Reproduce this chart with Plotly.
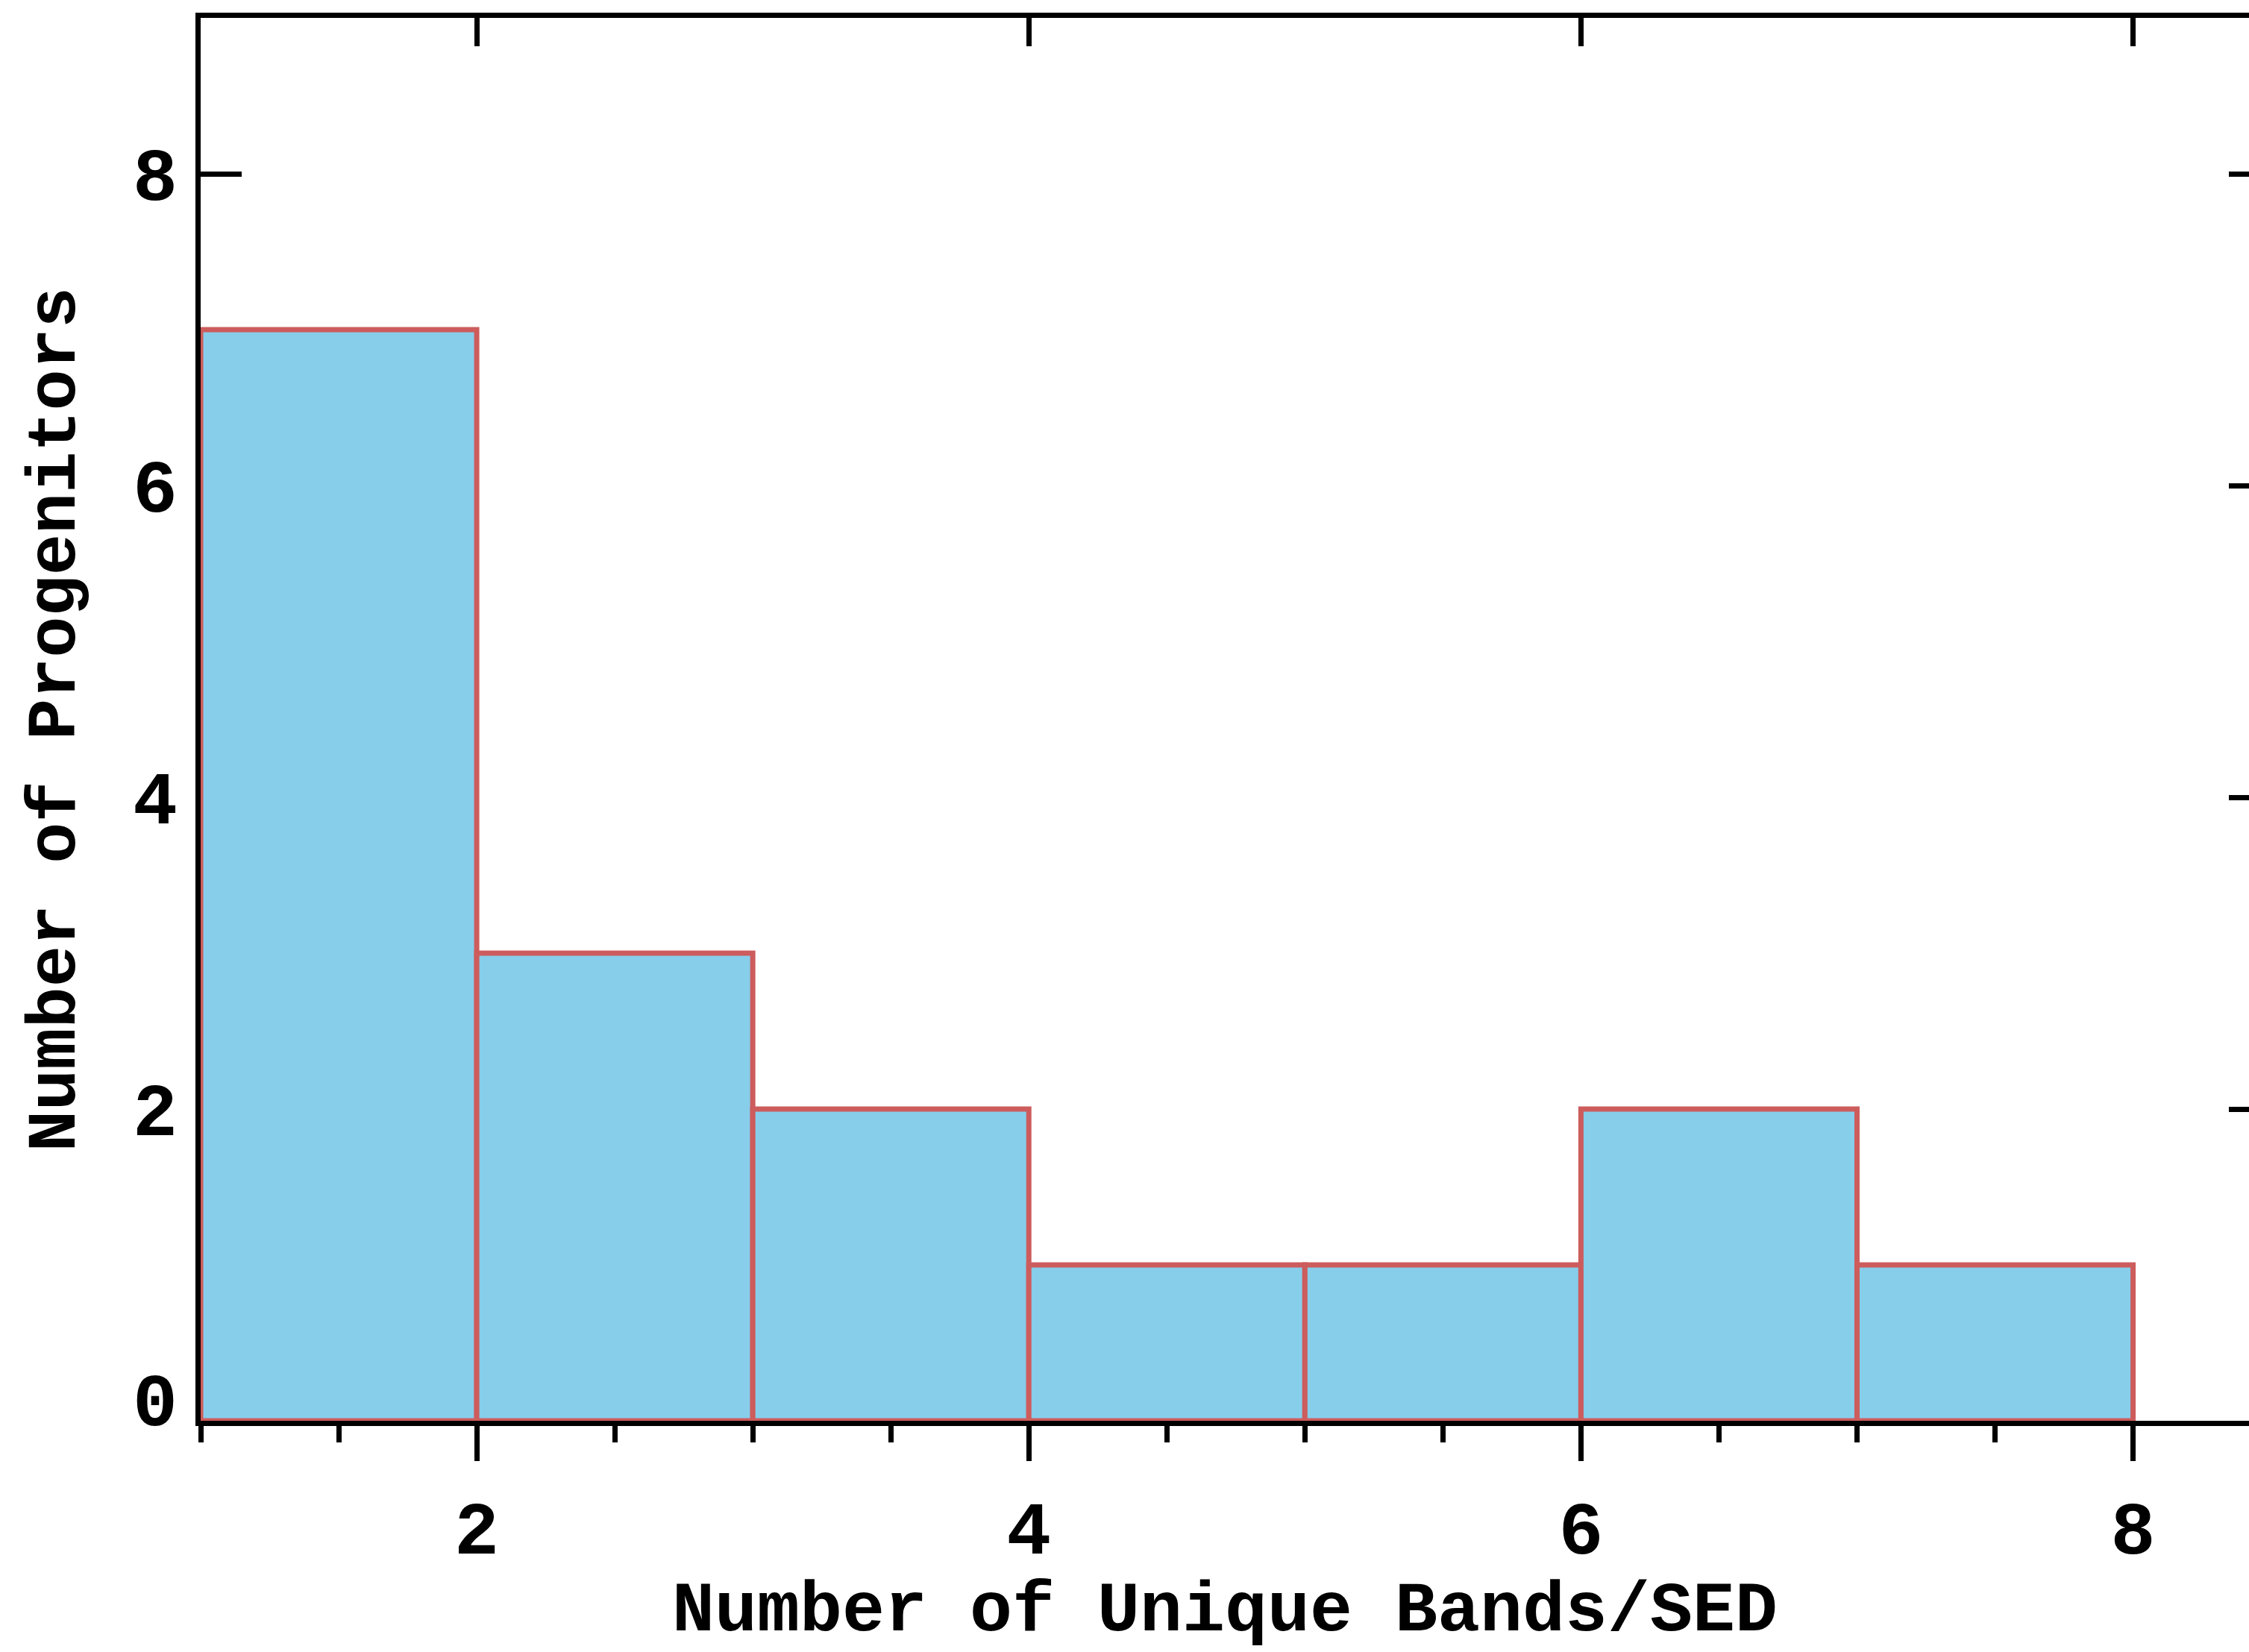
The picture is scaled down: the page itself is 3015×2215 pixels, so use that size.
import plotly.graph_objects as go

# Histogram of unique photometric bands per SED
bin_left = [1, 2, 3, 4, 5, 6, 7]
bin_width = [1, 1, 1, 1, 1, 1, 1]
counts = [7, 3, 2, 1, 1, 2, 1]

x_range = [1, 8.42]
y_range = [0, 9]
y_major = [2, 4, 6, 8]
y_origin = [0]

FONT = "Liberation Mono"
INK = "black"
CLEAR = "rgba(0,0,0,0)"
LW = 7

fig = go.Figure()
fig.add_trace(go.Bar(
    x=bin_left, y=counts, width=bin_width, offset=0,
    marker=dict(color="#87CEEB", line=dict(color="#CD5C5C", width=LW)),
    cliponaxis=False, showlegend=False,
))
# empty traces so the mirrored top/right axes and the origin label get drawn
fig.add_trace(go.Scatter(
    x=[None], y=[None], xaxis="x2", yaxis="y2",
    mode="markers", showlegend=False, hoverinfo="skip",
))
fig.add_trace(go.Scatter(
    x=[None], y=[None], xaxis="x", yaxis="y3",
    mode="markers", showlegend=False, hoverinfo="skip",
))

tick_font = dict(family=FONT, size=100, weight="bold")

fig.update_layout(
    width=3015, height=2215,
    margin=dict(l=269, r=0, t=24, b=310),
    paper_bgcolor="white", plot_bgcolor="white",
    font=dict(family=FONT, color=INK, size=100, weight="bold"),
    xaxis=dict(
        range=x_range, tick0=0, dtick=2, automargin=False,
        ticks="outside", ticklen=47, tickwidth=LW, tickcolor=INK,
        minor=dict(tick0=0, dtick=0.5, ticks="outside", ticklen=22,
                   tickwidth=LW, tickcolor=INK),
        showline=True, linewidth=LW, linecolor=INK,
        showgrid=False, zeroline=False, layer="below traces",
        tickfont=tick_font,
        ticklabelstandoff=4,
        title=dict(text="Number of Unique Bands/SED",
                   font=dict(family=FONT, size=95, weight="bold"),
                   standoff=40),
    ),
    xaxis2=dict(
        range=x_range, overlaying="x", anchor="y2", side="top",
        automargin=False,
        tick0=0, dtick=2, ticks="inside", ticklen=38, tickwidth=LW,
        tickcolor=INK, showline=True, linewidth=LW, linecolor=INK,
        showticklabels=False, showgrid=False, zeroline=False,
    ),
    yaxis=dict(
        range=y_range, tickmode="array", tickvals=y_major, automargin=False,
        ticks="inside", ticklen=55, tickwidth=LW, tickcolor=INK,
        showline=True, linewidth=LW, linecolor=INK,
        showgrid=False, zeroline=False, layer="below traces",
        tickfont=tick_font,
        ticklabelstandoff=4,
        title=dict(text="Number of Progenitors",
                   font=dict(family=FONT, size=92, weight="bold"),
                   standoff=49),
    ),
    yaxis2=dict(
        range=y_range, overlaying="y", anchor="x2", side="right",
        automargin=False,
        tickmode="array", tickvals=y_major,
        ticks="inside", ticklen=27, tickwidth=LW,
        tickcolor=INK, showline=False, showticklabels=False,
        showgrid=False, zeroline=False,
    ),
    # origin label sits a little above the x axis line
    yaxis3=dict(
        range=y_range, overlaying="y", anchor="x", side="left",
        automargin=False,
        tickmode="array", tickvals=y_origin, ticks="inside", ticklen=55,
        tickwidth=LW, tickcolor=CLEAR,
        showline=True, linewidth=LW, linecolor=CLEAR,
        showgrid=False, zeroline=False,
        tickfont=tick_font, ticklabelstandoff=4, ticklabelshift=-29,
    ),
)

fig.write_html("out.html")
